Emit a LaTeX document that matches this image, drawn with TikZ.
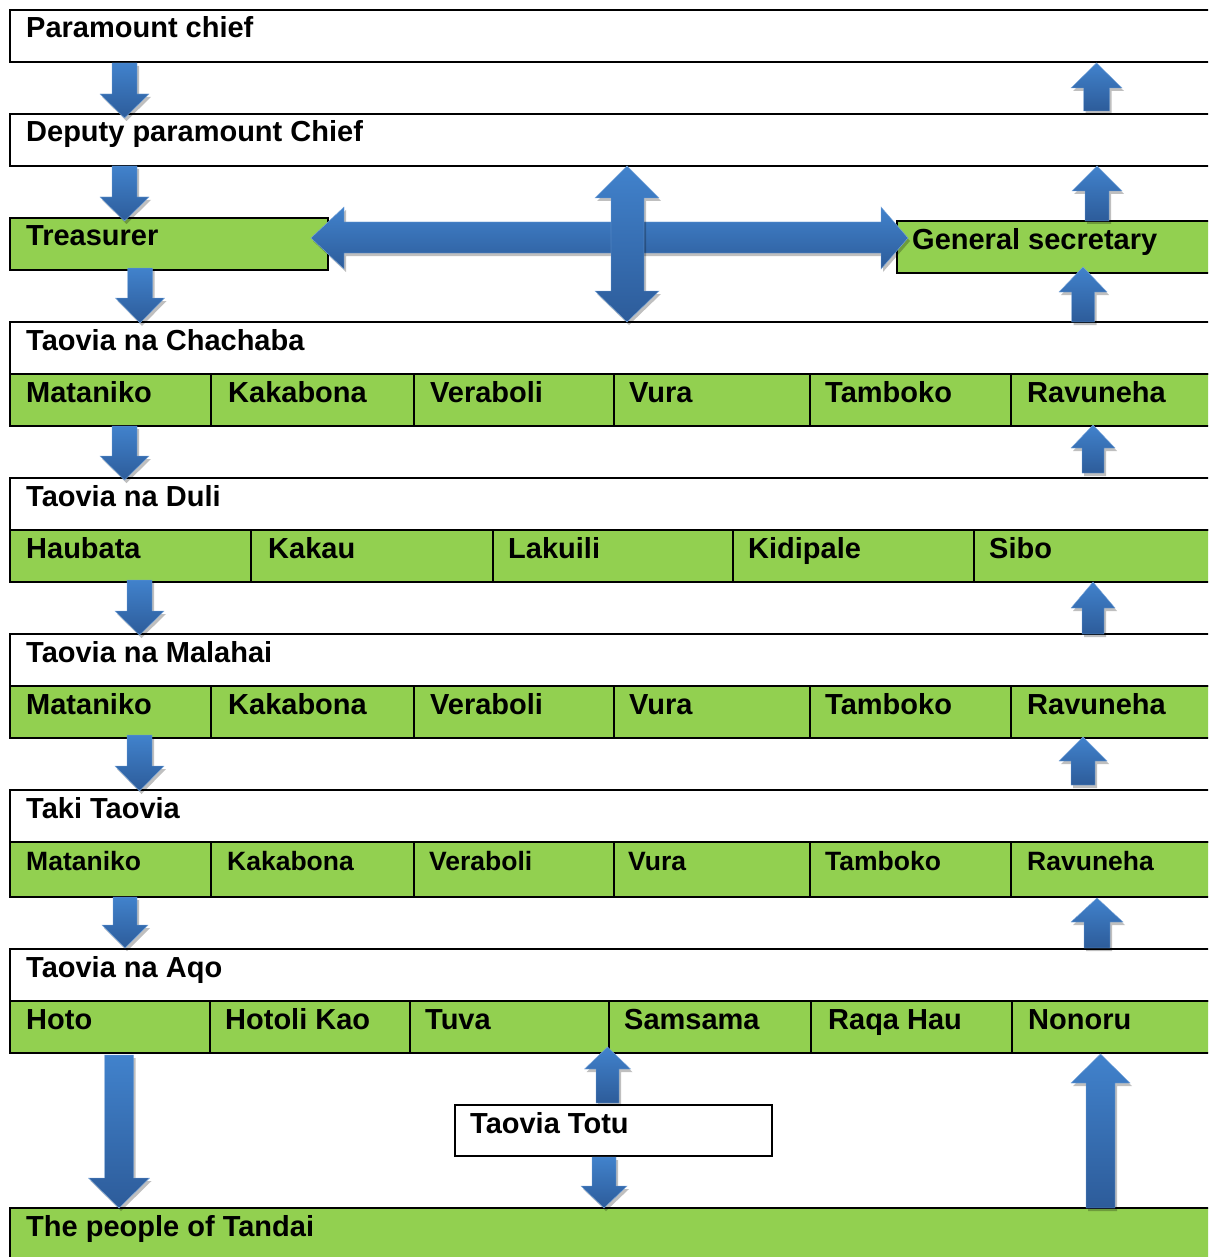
\documentclass[tikz,border=0pt]{standalone}
\usepackage{fontspec}
\setmainfont{Liberation Sans}
\usetikzlibrary{shadows}
\definecolor{gr}{HTML}{92D050}
\definecolor{alight}{HTML}{4182CC}
\definecolor{adark}{HTML}{2D5C9A}
\tikzset{
  wbox/.style={draw=black, line width=1.8pt, fill=white, anchor=north west, minimum height=52pt, inner sep=0pt, outer sep=0pt},
  gcell/.style={draw=black, line width=1.8pt, fill=gr, anchor=north west, minimum height=52pt, inner sep=0pt, outer sep=0pt},
  lbl/.style={anchor=base west, inner sep=0pt, font=\fontsize{29}{34}\selectfont\bfseries},
  slbl/.style={anchor=base west, inner sep=0pt, font=\fontsize{26.5}{32}\selectfont\bfseries},
  blockarrow/.style={top color=alight, bottom color=adark, draw=alight!70!white, line width=0.4pt,
     drop shadow={shadow xshift=2pt, shadow yshift=-3pt, opacity=0.25, fill=black}},
}
% vertical block arrow: x, ytail, yheadbase, ytip, shaft width, head width
\newcommand\varr[6]{%
  \path[blockarrow] ({#1-#5/2},#2) -- ({#1-#5/2},#3) -- ({#1-#6/2},#3) -- (#1,#4)
     -- ({#1+#6/2},#3) -- ({#1+#5/2},#3) -- ({#1+#5/2},#2) -- cycle;}
\begin{document}
\begin{tikzpicture}[x=1pt, y=-1pt]
\useasboundingbox (0,0) rectangle (1208,1257);
\clip (0,0) rectangle (1208,1257);
\fill[white] (0,0) rectangle (1208,1257);

% ---- top boxes
\node[wbox, minimum width=1210pt] (pc) at (10,10) {};
\node[lbl] (pct) at (26,38) {Paramount chief};
\node[wbox, minimum width=1210pt] (dpc) at (10,114) {};
\node[lbl] (dpct) at (26,142) {Deputy paramount Chief};
\node[gcell, minimum width=318pt] (tr) at (10,218) {};
\node[lbl] (trt) at (26,246) {Treasurer};
\node[gcell, minimum width=320pt] (gs) at (897,221) {};

% ---- Taovia na Chachaba
\node[wbox, minimum width=1210pt] (ch) at (10,322) {};
\node[lbl] (cht) at (26,350) {Taovia na Chachaba};
\node[gcell, minimum width=201pt] (ch1) at (10,374) {};
\node[gcell, minimum width=203pt] (ch2) at (211,374) {};
\node[gcell, minimum width=200pt] (ch3) at (414,374) {};
\node[gcell, minimum width=196pt] (ch4) at (614,374) {};
\node[gcell, minimum width=201pt] (ch5) at (810,374) {};
\node[gcell, minimum width=210pt] (ch6) at (1011,374) {};
\node[lbl] at (26,402) {Mataniko};
\node[lbl] at (228,402) {Kakabona};
\node[lbl] at (430,402) {Veraboli};
\node[lbl] at (629,402) {Vura};
\node[lbl] at (825,402) {Tamboko};
\node[lbl] at (1027,402) {Ravuneha};

% ---- Taovia na Duli
\node[wbox, minimum width=1210pt] (du) at (10,478) {};
\node[lbl] (dut) at (26,506) {Taovia na Duli};
\node[gcell, minimum width=241pt] (du1) at (10,530) {};
\node[gcell, minimum width=242pt] (du2) at (251,530) {};
\node[gcell, minimum width=240pt] (du3) at (493,530) {};
\node[gcell, minimum width=241pt] (du4) at (733,530) {};
\node[gcell, minimum width=240pt] (du5) at (974,530) {};
\node[lbl] at (26,558) {Haubata};
\node[lbl] at (268,558) {Kakau};
\node[lbl] at (508,558) {Lakuili};
\node[lbl] at (748,558) {Kidipale};
\node[lbl] at (989,558) {Sibo};

% ---- Taovia na Malahai
\node[wbox, minimum width=1210pt] (ma) at (10,634) {};
\node[lbl] (mat) at (26,662) {Taovia na Malahai};
\node[gcell, minimum width=201pt] (ma1) at (10,686) {};
\node[gcell, minimum width=203pt] (ma2) at (211,686) {};
\node[gcell, minimum width=200pt] (ma3) at (414,686) {};
\node[gcell, minimum width=196pt] (ma4) at (614,686) {};
\node[gcell, minimum width=201pt] (ma5) at (810,686) {};
\node[gcell, minimum width=210pt] (ma6) at (1011,686) {};
\node[lbl] at (26,714) {Mataniko};
\node[lbl] at (228,714) {Kakabona};
\node[lbl] at (430,714) {Veraboli};
\node[lbl] at (629,714) {Vura};
\node[lbl] at (825,714) {Tamboko};
\node[lbl] at (1027,714) {Ravuneha};

% ---- Taki Taovia
\node[wbox, minimum width=1210pt] (tk) at (10,790) {};
\node[lbl] (tkt) at (26,818) {Taki Taovia};
\node[gcell, minimum width=201pt, minimum height=55pt] (tk1) at (10,842) {};
\node[gcell, minimum width=203pt, minimum height=55pt] (tk2) at (211,842) {};
\node[gcell, minimum width=200pt, minimum height=55pt] (tk3) at (414,842) {};
\node[gcell, minimum width=196pt, minimum height=55pt] (tk4) at (614,842) {};
\node[gcell, minimum width=201pt, minimum height=55pt] (tk5) at (810,842) {};
\node[gcell, minimum width=210pt, minimum height=55pt] (tk6) at (1011,842) {};
\node[slbl] at (26,870) {Mataniko};
\node[slbl] at (227,870) {Kakabona};
\node[slbl] at (429,870) {Veraboli};
\node[slbl] at (628,870) {Vura};
\node[slbl] at (825,870) {Tamboko};
\node[slbl] at (1027,870) {Ravuneha};

% ---- Taovia na Aqo
\node[wbox, minimum width=1210pt] (aq) at (10,949) {};
\node[lbl] (aqt) at (26,977) {Taovia na Aqo};
\node[gcell, minimum width=200pt] (aq1) at (10,1001) {};
\node[gcell, minimum width=200pt] (aq2) at (210,1001) {};
\node[gcell, minimum width=199pt] (aq3) at (410,1001) {};
\node[gcell, minimum width=202pt] (aq4) at (609,1001) {};
\node[gcell, minimum width=201pt] (aq5) at (811,1001) {};
\node[gcell, minimum width=210pt] (aq6) at (1012,1001) {};
\node[lbl] at (26,1029) {Hoto};
\node[lbl] at (225,1029) {Hotoli Kao};
\node[lbl] at (425,1029) {Tuva};
\node[lbl] at (624,1029) {Samsama};
\node[lbl] at (828,1029) {Raqa Hau};
\node[lbl] at (1028,1029) {Nonoru};

% ---- Taovia Totu and people
\node[wbox, minimum width=317pt, minimum height=51pt] (tt) at (455,1105) {};
\node[lbl] (ttt) at (470,1133) {Taovia Totu};
\node[gcell, minimum width=1210pt, minimum height=60pt] (pe) at (10,1208) {};
\node[lbl] (pet) at (26,1236) {The people of Tandai};

% ---- big cross arrows
\path[blockarrow] (311,238) -- (344,207) -- (344,222) -- (881,222) -- (881,207) -- (908,238)
   -- (881,269) -- (881,253) -- (344,253) -- (344,269) -- cycle;
\path[blockarrow] (627,166) -- (659,198) -- (644,198) -- (644,291) -- (659,291) -- (627,322)
   -- (595,291) -- (611,291) -- (611,198) -- (595,198) -- cycle;
\node[lbl] (gst) at (912,250) {General secretary};

% ---- left down arrows
\varr{124.5}{63}{94}{118}{25}{49}
\varr{124.5}{166}{197}{221}{25}{49}
\varr{140}{268}{298}{323}{25}{49}
\varr{124.5}{426}{456}{480}{25}{49}
\varr{139.5}{580}{611}{635}{25}{49}
\varr{139.5}{735}{766}{791}{25}{49}
\varr{125}{897}{925}{948}{24}{46}
\varr{119}{1055}{1178}{1208}{29}{61}
% ---- Totu arrows
\varr{607.5}{1103}{1069}{1047}{23}{46}
\varr{604}{1157}{1186}{1208}{24}{46}

% ---- right up arrows
\varr{1096.5}{111}{88}{63}{26}{51}
\varr{1097}{221}{191}{166}{24}{50}
\varr{1083}{322}{292}{267}{23}{48}
\varr{1093}{473}{448}{425}{22}{44}
\varr{1093}{634}{608}{582}{22}{44}
\varr{1083}{785}{761}{737}{24}{48}
\varr{1097}{948}{922}{898}{26}{52}
\varr{1100.5}{1208}{1083}{1054}{29}{59}
\end{tikzpicture}
\end{document}
